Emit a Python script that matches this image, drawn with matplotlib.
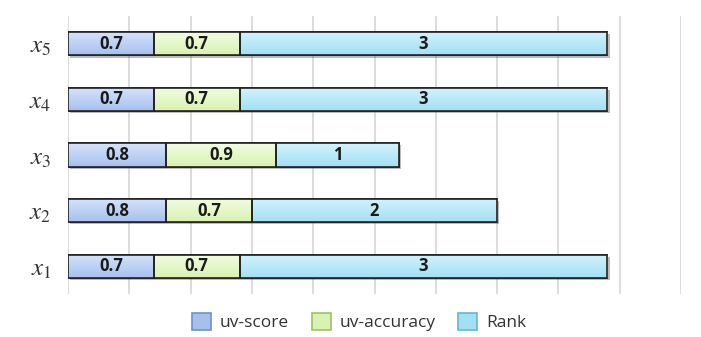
import numpy as np
import matplotlib.pyplot as plt
import matplotlib.colors as mcolors
from matplotlib.patches import Patch
import matplotlib.patheffects as pe

plt.rcParams['mathtext.fontset'] = 'stix'

categories = [r'$x_{\mathit{1}}$', r'$x_{\mathit{2}}$', r'$x_{\mathit{3}}$',
              r'$x_{\mathit{4}}$', r'$x_{\mathit{5}}$']
uv_score = [0.7, 0.8, 0.8, 0.7, 0.7]
uv_accuracy = [0.7, 0.7, 0.9, 0.7, 0.7]
rank = [3, 2, 1, 3, 3]
series_names = ['uv-score', 'uv-accuracy', 'Rank']

# top colour, bottom colour, legend edge
styles = [('#d6e4fb', '#a6c0ee', '#7090cf'),
          ('#f2fce2', '#d9f2b0', '#9cc46c'),
          ('#d2f3fc', '#a3e0f4', '#62b9d6')]

fig = plt.figure(figsize=(7.01, 3.37), dpi=100)
ax = fig.add_axes([68 / 701, 1 - 294 / 337, 613 / 701, 278 / 337])

y = np.arange(len(categories))
left = np.zeros(len(categories))
shadow = [pe.SimplePatchShadow(offset=(1.5, -1.5), alpha=0.35), pe.Normal()]
for vals, (c_top, c_bot, _) in zip([uv_score, uv_accuracy, rank], styles):
    bars = ax.barh(y, vals, left=left, height=0.42, color=c_bot,
                   edgecolor='#222222', linewidth=1.2, zorder=3)
    cmap = mcolors.LinearSegmentedColormap.from_list('g', [c_top, c_bot])
    for bar, v in zip(bars, vals):
        bar.set_path_effects(shadow)
        x0, y0 = bar.get_x(), bar.get_y()
        w, h = bar.get_width(), bar.get_height()
        grad = np.linspace(0, 1, 50).reshape(-1, 1)
        im = ax.imshow(grad, cmap=cmap, aspect='auto', origin='upper',
                       extent=(x0, x0 + w, y0, y0 + h), zorder=3.5,
                       interpolation='bilinear')
        im.set_clip_path(bar)
        ax.add_patch(plt.Rectangle((x0, y0), w, h, fill=False,
                                   edgecolor='#222222', linewidth=1.2, zorder=4))
        label = f'{v:g}'
        ax.text(x0 + w / 2, y0 + h / 2, label, ha='center', va='center',
                fontsize=12, fontweight='bold', family='Open Sans',
                color='#1a1a1a', zorder=5)
    left += np.array(vals)

ax.set_xlim(0, 5)
ax.set_ylim(-0.5, 4.5)
ax.set_xticks(np.arange(0, 5.01, 0.5))
ax.set_xticklabels([])
ax.tick_params(axis='x', length=0)
ax.tick_params(axis='y', length=0, pad=12)
ax.set_yticks(y)
ax.set_yticklabels(categories, fontsize=18, color='#333333')
ax.grid(axis='x', color='#d9d9d9', linewidth=1.3, zorder=0)
for s in ax.spines.values():
    s.set_visible(False)

handles = [Patch(facecolor=st[1], edgecolor=st[2], linewidth=1.2, label=n)
           for st, n in zip(styles, series_names)]
fig.legend(handles=handles, loc='center', bbox_to_anchor=(359 / 701, 1 - 322 / 337),
           ncol=3, frameon=False, prop={'family': 'Open Sans', 'size': 12.5},
           handlelength=1.1, handleheight=1.1, columnspacing=1.3, handletextpad=0.5,
           labelcolor='#333333')

plt.savefig('out.png', dpi=100)
